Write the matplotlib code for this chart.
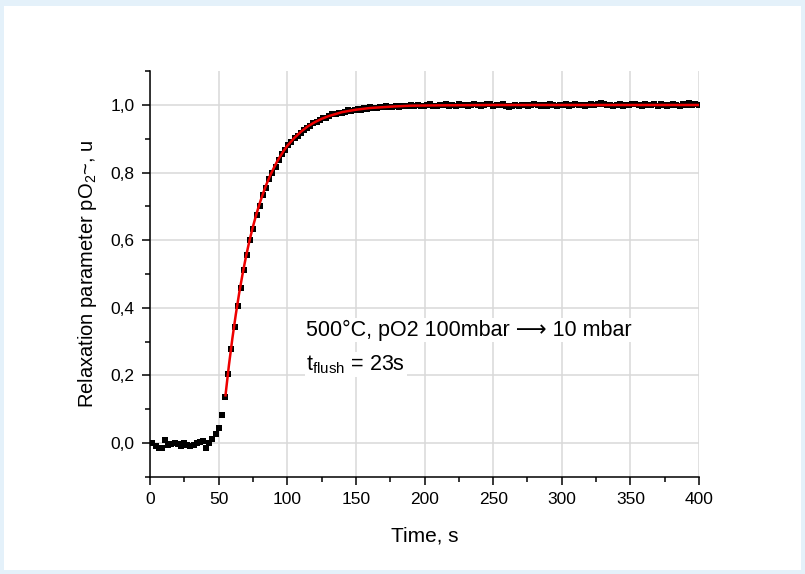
import numpy as np
import matplotlib
matplotlib.use('Agg')
from matplotlib import pyplot as plt
from matplotlib.patches import Rectangle
from matplotlib.ticker import MultipleLocator, FuncFormatter

plt.rcParams['font.family'] = ['Liberation Sans', 'DejaVu Sans']
plt.rcParams['mathtext.fontset'] = 'custom'
plt.rcParams['mathtext.rm'] = 'Liberation Sans'
plt.rcParams['mathtext.it'] = 'Liberation Sans:italic'
plt.rcParams['mathtext.bf'] = 'Liberation Sans:bold'

# measured points, sampled every 2.3 s starting at 1.8 s
tStart = 1.8
tStep = 2.3
measured = [
  0.000, -0.010, -0.016, -0.014, 0.009, -0.005, -0.004, 0.000, -0.003, -0.008,
  0.000, -0.005, -0.010, -0.006, 0.001, 0.004, 0.006, -0.015, 0.000, 0.012,
  0.028, 0.045, 0.082, 0.135, 0.205, 0.278, 0.342, 0.405, 0.458, 0.512,
  0.556, 0.601, 0.632, 0.675, 0.702, 0.733, 0.755, 0.780, 0.799, 0.818,
  0.838, 0.856, 0.868, 0.883, 0.890, 0.902, 0.909, 0.918, 0.925, 0.933,
  0.938, 0.946, 0.950, 0.955, 0.961, 0.963, 0.966, 0.972, 0.972, 0.976,
  0.975, 0.980, 0.984, 0.981, 0.985, 0.988, 0.986, 0.990, 0.989, 0.993,
  0.990, 0.992, 0.995, 0.993, 0.996, 0.993, 0.995, 0.997, 0.995, 0.998,
  0.996, 0.998, 0.999, 0.997, 1.001, 0.998, 0.996, 1.000, 1.002, 0.998,
  0.997, 1.001, 0.999, 1.003, 0.998, 1.000, 0.997, 1.002, 0.999, 1.001,
  0.998, 1.000, 1.003, 0.999, 0.997, 1.001, 1.004, 1.002, 0.998, 1.000,
  0.999, 1.002, 0.997, 0.995, 0.998, 1.000, 0.996, 0.999, 1.001, 0.998,
  1.000, 1.003, 0.999, 0.997, 1.001, 0.998, 1.002, 1.000, 0.997, 1.001,
  0.999, 1.002, 0.998, 1.000, 1.003, 0.999, 1.001, 0.998, 1.000, 1.002,
  0.999, 1.004, 1.006, 1.002, 0.999, 1.001, 0.997, 1.000, 1.003, 0.998,
  1.001, 0.999, 1.002, 1.004, 1.000, 0.998, 1.003, 0.999, 1.001, 1.004,
  0.998, 1.002, 1.000, 0.996, 1.001, 1.003, 0.999, 0.997, 1.002, 1.000,
  1.005, 0.999, 1.002, 1.000,
]
measuredTime = tStart + tStep * np.arange(len(measured))

# fitted relaxation curve (red)
fitTime = [55, 57.5, 60, 62.5, 65, 67.5, 70, 72.5, 75, 77.5, 80, 82.5, 85,
           87.5, 90, 92.5, 95, 97.5, 100, 105, 110, 115, 120, 125, 130, 140,
           150, 160, 175, 190, 210, 250, 300, 350, 400]
fitValue = [0.141, 0.230, 0.309, 0.380, 0.444, 0.501, 0.553, 0.599, 0.640,
            0.677, 0.710, 0.740, 0.767, 0.791, 0.812, 0.832, 0.849, 0.865,
            0.879, 0.902, 0.921, 0.937, 0.949, 0.959, 0.967, 0.979, 0.986,
            0.991, 0.995, 0.998, 0.999, 1.000, 1.000, 1.000, 1.000]

W, H = 805, 574
fig = plt.figure(figsize=(W / 100, H / 100), dpi=100)
fig.patch.set_facecolor('#e4f1fa')
fig.patches.append(Rectangle((4 / W, 4 / H), 797 / W, 564 / H,
                             transform=fig.transFigure, facecolor='white',
                             edgecolor='none', zorder=-10))

ax = fig.add_axes([150 / W, 1 - 476.8 / H, 549 / W, 405.6 / H])
ax.set_facecolor('white')

ax.plot(measuredTime, measured, 's', color='black', ms=4.4, mew=0, zorder=3)
ax.plot(fitTime, fitValue, '-', color='#ee0000', lw=1.8, zorder=4)

ax.set_xlim(0, 400)
ax.set_ylim(-0.1, 1.1)

ax.xaxis.set_major_locator(MultipleLocator(50))
ax.xaxis.set_minor_locator(MultipleLocator(25))
ax.yaxis.set_major_locator(MultipleLocator(0.2))
ax.yaxis.set_minor_locator(MultipleLocator(0.1))
ax.yaxis.set_major_formatter(FuncFormatter(lambda v, p: ('%.1f' % v).replace('.', ',')))
ax.xaxis.set_major_formatter(FuncFormatter(lambda v, p: '%d' % v))

ax.grid(True, which='major', color='#d8d8d8', lw=1.1, zorder=0)
ax.set_axisbelow(True)

for side in ['top', 'right']:
  ax.spines[side].set_visible(False)
for side in ['left', 'bottom']:
  ax.spines[side].set_linewidth(1.1)

ax.tick_params(which='major', direction='out', length=6, width=1.1,
               labelsize=12.5, pad=5)
ax.tick_params(which='minor', direction='out', length=3.5, width=1.1)

ax.set_xlabel('Time, s', fontsize=15, labelpad=14)
ax.set_ylabel('Relaxation parameter pO$_2$~, u', fontsize=14.5, labelpad=8)

box = dict(facecolor='white', edgecolor='none', pad=1)
ax.text(114, 0.318, '500\u00b0C, pO2 100mbar \u27f6 10 mbar',
        fontsize=15.5, ha='left', va='baseline', bbox=box, zorder=5,
        family=['Liberation Sans', 'DejaVu Sans'])
ax.text(114, 0.215, '$\\mathrm{t_{flush}}$ = 23s',
        fontsize=15.5, ha='left', va='baseline', bbox=box, zorder=5)

fig.savefig('out.png', dpi=100, facecolor=fig.get_facecolor())
